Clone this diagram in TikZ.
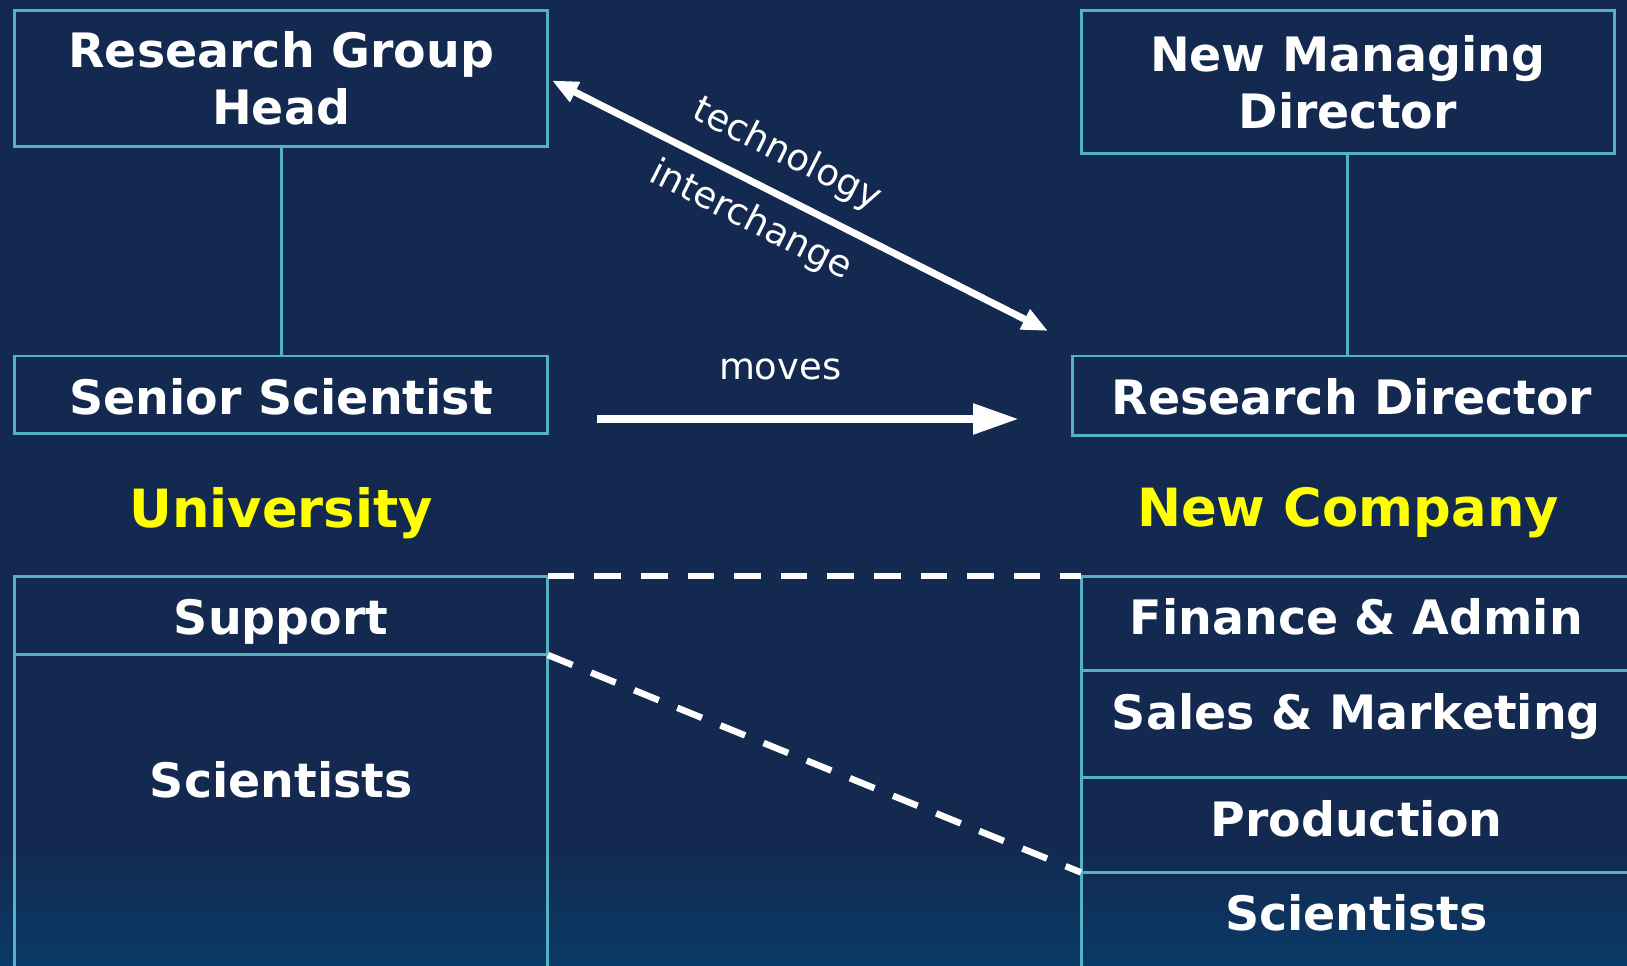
\documentclass[tikz,border=0pt]{standalone}
\usepackage{fontspec}
\setmainfont{DejaVu Sans}
\usetikzlibrary{arrows.meta}
\definecolor{bgnavy}{RGB}{19,41,79}
\definecolor{bgbottom}{RGB}{9,58,104}
\definecolor{boxteal}{RGB}{84,178,196}
\definecolor{orgyellow}{RGB}{255,255,0}
\newcommand\orgboxfont{\fontsize{27}{32.4}\selectfont\bfseries}
\newcommand\orglabfont{\fontsize{21}{25}\selectfont}
\newcommand\orgheadfont{\fontsize{30}{36}\selectfont\bfseries}
\begin{document}
\begin{tikzpicture}[x=0.02cm, y=-0.02cm,
  orgbox/.style={draw=boxteal, line width=0.06cm, inner sep=0pt, outer sep=0pt, anchor=north west, text=white, font=\orgboxfont},
  leftw/.style={minimum width=10.67cm},
  rightw/.style={minimum width=11.02cm},
  onebox/.style 2 args={text height=#1, text depth=#2},
  unitlabel/.style={text=orgyellow, font=\orgheadfont, inner sep=0pt},
  linkline/.style={draw=boxteal, line width=0.065cm},
  techarrow/.style={draw=white, line width=0.14cm, {Triangle[length=0.52cm,width=0.42cm]}-{Triangle[length=0.52cm,width=0.42cm]}},
  movearrow/.style={draw=white, line width=0.17cm, -{Triangle[length=0.92cm,width=0.58cm]}},
  arrowlabel/.style={text=white, font=\orglabfont, inner sep=0pt},
  dashline/.style={draw=white, line width=0.13cm, dash pattern=on 0.532cm off 0.4cm}
]
\useasboundingbox (0,0) rectangle (1627,966);
\clip (0,0) rectangle (1627,966);
\fill[bgnavy] (0,0) rectangle (1627,966);
\shade[top color=bgnavy, bottom color=bgbottom] (0,845) rectangle (1627,966);

% University side
\node[orgbox, leftw, minimum height=2.72cm, align=center] (rgh) at (14.5,10.4) {Research Group\\Head};
\node[orgbox, leftw, onebox={1.18cm}{0.38cm}] (ss) at (14.5,356) {Senior Scientist};
\node[unitlabel] (univ) at (281,513) {University};
\node[orgbox, leftw, onebox={1.18cm}{0.40cm}] (sup) at (14.5,576) {Support};
\node[orgbox, leftw, onebox={2.86cm}{4.14cm}] (sciL) at (sup.south west) {Scientists};

% New company side
\node[orgbox, minimum width=10.67cm, minimum height=2.864cm, align=center] (nmd) at (1081,10.4) {New Managing\\Director};
\node[orgbox, minimum width=11.2cm, onebox={1.18cm}{0.41cm}] (rd) at (1072,356) {Research Director};
\node[unitlabel] (newco) at (1348,513) {New Company};
\node[orgbox, rightw, onebox={1.18cm}{0.71cm}] (fin) at (1081,576) {Finance \& Admin};
\node[orgbox, rightw, onebox={1.18cm}{0.97cm}] (sal) at (fin.south west) {Sales \& Marketing};
\node[orgbox, rightw, onebox={1.18cm}{0.71cm}] (prod) at (sal.south west) {Production};
\node[orgbox, rightw, onebox={1.16cm}{1.4cm}] (sciR) at (prod.south west) {Scientists};

% hierarchy lines
\draw[linkline] (rgh.south) -- (ss.north);
\draw[linkline] (nmd.south) -- (nmd.south |- rd.north);

% technology interchange
\coordinate (techEnd) at (1048,331);
\draw[techarrow, shorten <=0.09cm] (rgh.east) --
  node[arrowlabel, sloped, pos=0.442, above=0.36cm] {technology}
  node[arrowlabel, sloped, pos=0.438, below=0.29cm] {interchange} (techEnd);

% moves
\coordinate (mvA) at (597,419);
\coordinate (mvB) at (1019,419);
\draw[movearrow] (mvA) -- node[arrowlabel, pos=0.434, yshift=1cm] {moves} (mvB);

% dashed correspondences
\draw[dashline] (sup.north east) -- (fin.north west);
\draw[dashline] (sup.south east) -- (sciR.north west);
\end{tikzpicture}
\end{document}
